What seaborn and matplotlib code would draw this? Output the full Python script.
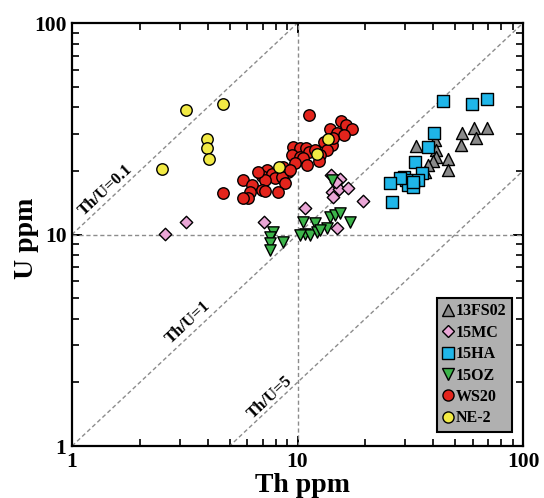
import numpy as np
import pandas as pd
import matplotlib
matplotlib.use("Agg")
import matplotlib.pyplot as plt
from matplotlib.lines import Line2D
from matplotlib.ticker import FixedLocator, FixedFormatter, LogLocator, NullFormatter
import seaborn as sns

# ---- data: Th and U concentrations (ppm) per sample ----
th_13fs02 = [33.4, 40.7, 41.1, 41.1, 40.0, 38.0, 46.4, 46.6, 53.8, 53.1, 60.8, 61.9, 69.5, 36.8]
u_13fs02 = [26.3, 28.0, 25.1, 23.3, 22.3, 21.3, 22.8, 20.2, 30.1, 26.5, 31.8, 28.5, 32.0, 19.8]

th_15mc = [2.58, 3.20, 7.10, 10.8, 14.1, 15.4, 14.2, 15.2, 14.4, 16.7, 19.5, 15.0, 14.8]
u_15mc = [10.1, 11.5, 11.5, 13.3, 19.1, 18.3, 15.9, 16.5, 15.0, 16.6, 14.4, 10.7, 17.7]

th_15ha = [44.3, 59.2, 69.5, 40.3, 37.8, 33.2, 35.5, 34.3, 29.8, 30.2, 31.0, 32.4, 28.5, 25.7, 26.2, 32.6]
u_15ha = [42.9, 41.3, 43.6, 30.3, 26.0, 22.1, 19.5, 18.1, 18.8, 18.1, 17.1, 16.8, 18.6, 17.5, 14.2, 17.8]

th_15oz = [14.2, 7.81, 7.55, 7.55, 7.55, 8.65, 10.6, 11.96, 10.8, 11.4, 12.2, 13.5, 13.9, 14.7,
           15.4, 17.1, 10.3, 12.6]
u_15oz = [18.1, 10.3, 9.76, 9.09, 8.45, 9.25, 11.5, 11.3, 10.1, 9.95, 10.3, 10.7, 12.1, 12.4,
          12.6, 11.5, 9.95, 10.5]

th_ws20 = [11.25, 15.6, 16.4, 17.4, 13.9, 14.9, 16.0, 13.1, 14.2, 13.5, 12.6, 9.58, 10.3, 10.9,
           11.2, 9.43, 10.3, 10.6, 9.75, 11.0, 12.4, 9.10, 8.65, 7.30, 6.94, 7.68, 7.95, 7.18,
           8.51, 5.75, 6.26, 8.80, 6.16, 6.94, 7.18, 8.22, 6.05, 5.75, 4.66, 9.26, 11.96, 6.70, 14.4]
u_ws20 = [36.7, 34.4, 32.9, 31.5, 31.5, 30.1, 29.5, 27.5, 26.5, 25.1, 23.8, 26.0, 25.7, 25.6,
          24.6, 23.8, 23.3, 22.9, 21.7, 21.3, 22.3, 19.8, 20.9, 20.2, 19.0, 19.3, 18.4, 18.1,
          18.8, 18.1, 17.1, 17.5, 15.9, 16.2, 16.1, 15.8, 14.8, 14.8, 15.7, 20.2, 25.1, 19.8, 28.6]

th_ne2 = [3.20, 4.66, 3.96, 3.96, 4.06, 2.51, 8.25, 12.17, 13.7]
u_ne2 = [38.8, 41.3, 28.3, 25.6, 22.7, 20.4, 20.9, 23.9, 28.2]

samples = ["13FS02", "15MC", "15HA", "15OZ", "WS20", "NE-2"]
colors = ["#8a8a8a", "#eaa6d6", "#1fb6e9", "#3cb44a", "#e3241c", "#f2ea44"]
markers = ["^", "D", "s", "v", "o", "o"]
sizes = [75, 40, 66, 66, 68, 68]

ratios = [0.1, 1, 5]
ratio_labels = ["Th/U=0.1", "Th/U=1", "Th/U=5"]

tick_vals = [1, 10, 100]
tick_text = ["1", "10", "100"]

th_sets = [th_13fs02, th_15mc, th_15ha, th_15oz, th_ws20, th_ne2]
u_sets = [u_13fs02, u_15mc, u_15ha, u_15oz, u_ws20, u_ne2]

df = pd.concat(
    [pd.DataFrame({"Th": t, "U": u, "sample": s}) for t, u, s in zip(th_sets, u_sets, samples)],
    ignore_index=True,
)

# ---- style ----
sns.set_theme(style="white")
plt.rcParams["font.family"] = ["Liberation Serif", "DejaVu Serif"]
plt.rcParams["font.weight"] = "bold"
plt.rcParams["axes.labelweight"] = "bold"
plt.rcParams["text.color"] = "black"
plt.rcParams["axes.labelcolor"] = "black"
plt.rcParams["xtick.color"] = "black"
plt.rcParams["ytick.color"] = "black"

fig = plt.figure(figsize=(5.44, 4.98), dpi=100)
ax = fig.add_axes([0.1324, 0.1044, 0.829, 0.8494])
ax.set_xscale("log")
ax.set_yscale("log")
ax.set_xlim(1, 100)
ax.set_ylim(1, 100)

# Th/U reference lines
th_line = np.array([1.0, 100.0])
for r in ratios:
    ax.plot(th_line, th_line / r, ls=(0, (3, 2)), color="#8c8c8c", lw=1.0, zorder=1)
ax.axvline(10, ls=(0, (3, 2)), color="#8c8c8c", lw=1.0, zorder=1)
ax.axhline(10, ls=(0, (3, 2)), color="#8c8c8c", lw=1.0, zorder=1)

label_pos = [(1.415, 16.2), (3.27, 3.86), (7.53, 1.69)]
for (lx, ly), txt in zip(label_pos, ratio_labels):
    ax.text(lx, ly, txt, rotation=43, rotation_mode="anchor", ha="center", va="center",
            fontsize=12, fontweight="bold", color="black", zorder=2)

# samples, drawn in legend order
for s, c, m, sz in zip(samples, colors, markers, sizes):
    sub = df[df["sample"] == s]
    sns.scatterplot(data=sub, x="Th", y="U", marker=m, color=c, s=sz,
                    edgecolor="black", linewidth=1.0, ax=ax, legend=False, zorder=3)

# axes cosmetics
for sp in ax.spines.values():
    sp.set_linewidth(1.6)
    sp.set_color("black")
ax.xaxis.set_major_locator(FixedLocator(tick_vals))
ax.yaxis.set_major_locator(FixedLocator(tick_vals))
ax.xaxis.set_major_formatter(FixedFormatter(tick_text))
ax.yaxis.set_major_formatter(FixedFormatter(tick_text))
ax.xaxis.set_minor_locator(LogLocator(base=10, subs=np.arange(2, 10)))
ax.yaxis.set_minor_locator(LogLocator(base=10, subs=np.arange(2, 10)))
ax.xaxis.set_minor_formatter(NullFormatter())
ax.yaxis.set_minor_formatter(NullFormatter())
ax.tick_params(which="both", direction="in", top=True, right=True, bottom=True, left=True,
               color="black", labelcolor="black")
ax.tick_params(which="major", length=7, width=1.4, labelsize=15.5, pad=4)
ax.tick_params(which="minor", length=5, width=1.2)
for lbl in ax.get_xticklabels() + ax.get_yticklabels():
    lbl.set_fontweight("bold")

ax.set_xlabel("Th ppm", fontsize=20, fontweight="bold", color="black")
ax.set_ylabel("U ppm", fontsize=20, fontweight="bold", color="black")
ax.xaxis.set_label_coords(0.511, -0.064)
ax.yaxis.set_label_coords(-0.074, 0.49)

handles = [Line2D([], [], ls="", marker=m, markerfacecolor=c, markeredgecolor="black",
                  markeredgewidth=1.0, markersize=8 if m != "D" else 6.5)
           for c, m in zip(colors, markers)]
leg = ax.legend(handles, samples, loc="lower right", bbox_to_anchor=(0.975, 0.033),
                borderaxespad=0, frameon=True, fancybox=False, framealpha=1,
                facecolor="#b0b0b0", edgecolor="black", handlelength=0.6,
                handletextpad=0.2, labelspacing=0.34, borderpad=0.35,
                prop={"family": "Liberation Serif", "weight": "bold", "size": 11.5})
for t in leg.get_texts():
    t.set_color("black")
leg.get_frame().set_linewidth(1.5)
leg.set_zorder(5)

fig.savefig("out.png", dpi=100)
